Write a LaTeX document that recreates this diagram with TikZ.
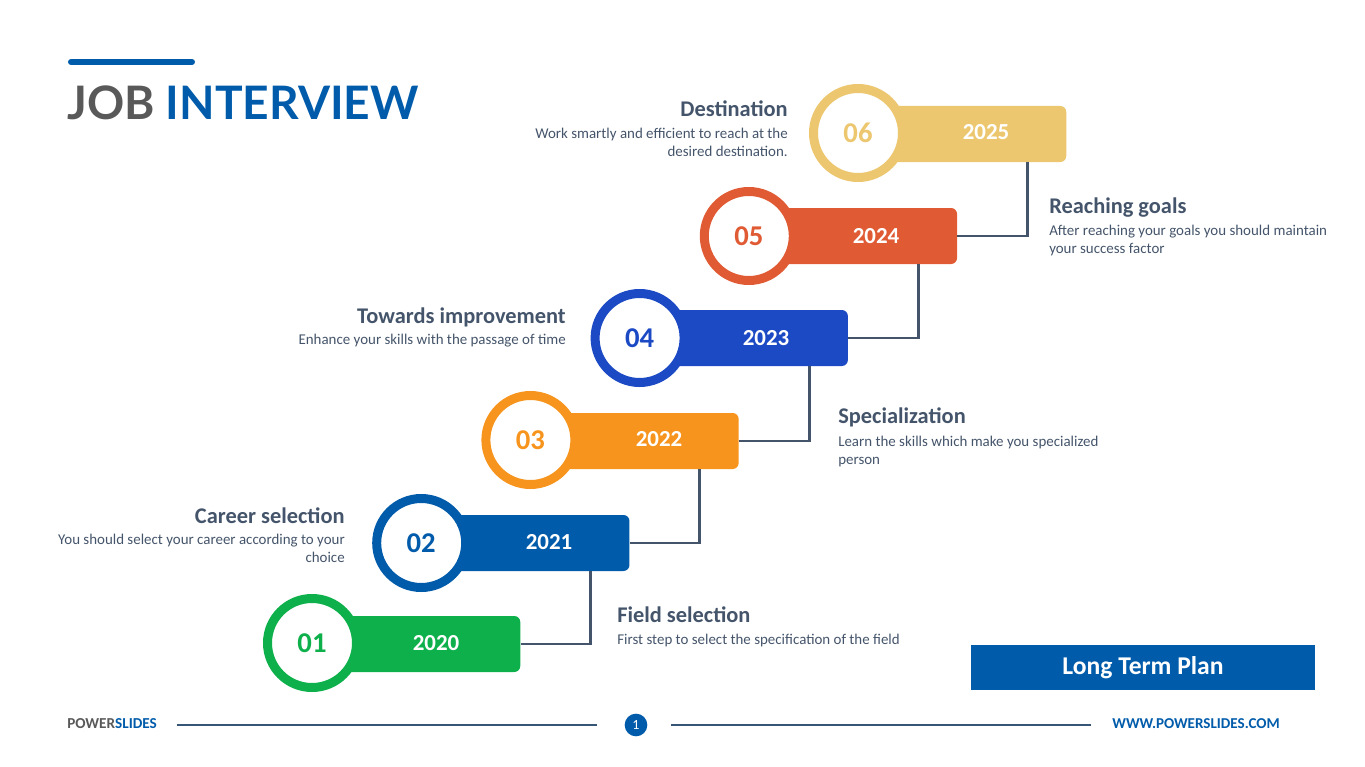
\documentclass[tikz,border=0pt]{standalone}
\usepackage{fontspec}
\setmainfont{Carlito}
\newfontfamily\lato{Lato}
\definecolor{cgreen}{HTML}{0DB04B}
\definecolor{cblue}{HTML}{005BAA}
\definecolor{corange}{HTML}{F7941D}
\definecolor{croyal}{HTML}{1C4AC5}
\definecolor{cred}{HTML}{E05A33}
\definecolor{cyellow}{HTML}{ECC770}
\definecolor{slate}{HTML}{44546A}
\definecolor{tgray}{HTML}{595959}
\tikzset{
  bar/.style={fill=#1, rounded corners=4.5pt, minimum width=156pt, minimum height=42pt, inner sep=0pt, anchor=west},
  ring/.style={circle, draw=#1, fill=white, line width=6.75pt, minimum size=66.75pt, inner sep=0pt, text=#1, font=\fontsize{21.5}{24}\selectfont\bfseries},
  year/.style={text=white, font=\fontsize{17.2}{20}\selectfont\bfseries, inner sep=0pt},
  link/.style={draw=slate, line width=2.2pt},
  head/.style={text=slate, font=\fontsize{16.8}{20}\selectfont\bfseries, inner sep=0pt},
  desc/.style={text=slate, font=\fontsize{11.2}{13.5}\selectfont, inner sep=0pt},
}
\begin{document}
\begin{tikzpicture}[x=0.75pt,y=-0.75pt]
\useasboundingbox (0,0) rectangle (1365,767);
% title
\draw[cblue, line width=4.5pt, line cap=round] (71,62) -- (192,62);
\node[anchor=base west, inner sep=0pt, font=\lato\bfseries\fontsize{34.6}{40}\selectfont] (title) at (67,119) {\textcolor{tgray}{JOB} \textcolor{cblue}{INTERVIEW}};
% steps
\node[bar=cgreen] (r1) at (312,644) {};
\node[bar=cblue] (r2) at (421.2,543) {};
\node[bar=corange] (r3) at (530.4,441) {};
\node[bar=croyal] (r4) at (639.6,338) {};
\node[bar=cred] (r5) at (748.8,236) {};
\node[bar=cyellow] (r6) at (858,134) {};
\node[ring=cgreen] (c1) at (312,643) {01};
\node[ring=cblue] (c2) at (421.2,543) {02};
\node[ring=corange] (c3) at (530.4,440) {03};
\node[ring=croyal] (c4) at (639.6,338) {04};
\node[ring=cred] (c5) at (748.8,236) {05};
\node[ring=cyellow] (c6) at (858,133) {06};
\node[year] (y1) at (436,643) {2020};
\node[year] (y2) at (549,542) {2021};
\node[year] (y3) at (659,439) {2022};
\node[year] (y4) at (766,338) {2023};
\node[year] (y5) at (876,236) {2024};
\node[year] (y6) at (986,132) {2025};
% connectors
\draw[link] (r1.east) -| ([xshift=-29.25pt]r2.south east);
\draw[link] (r2.east) -| ([xshift=-29.25pt]r3.south east);
\draw[link] (r3.east) -| ([xshift=-29.25pt]r4.south east);
\draw[link] (r4.east) -| ([xshift=-29.25pt]r5.south east);
\draw[link] (r5.east) -| ([xshift=-29.25pt]r6.south east);
% texts
\node[head, anchor=west] (h1) at (617,615) {Field selection};
\node[desc, anchor=west] (d1) at (617,641) {First step to select the specification of the field};
\node[head, anchor=east] (h2) at (345,516) {Career selection};
\node[desc, anchor=north east, align=right] (d2) at (345,534) {You should select your career according to your\\choice};
\node[head, anchor=west] (h3) at (838,417) {Specialization};
\node[desc, anchor=north west, align=left] (d3) at (838,436) {Learn the skills which make you specialized\\person};
\node[head, anchor=east] (h4) at (566,317) {Towards improvement};
\node[desc, anchor=east] (d4) at (566,341) {Enhance your skills with the passage of time};
\node[head, anchor=west] (h5) at (1049,208) {Reaching goals};
\node[desc, anchor=north west, align=left] (d5) at (1049,225) {After reaching your goals you should maintain\\your success factor};
\node[head, anchor=east] (h6) at (788,109) {Destination};
\node[desc, anchor=north east, align=right] (d6) at (788,128) {Work smartly and efficient to reach at the\\desired destination.};
% long term plan
\node[fill=cblue, minimum width=258pt, minimum height=33.75pt, inner sep=0pt, text=white, font=\fontsize{19.2}{22}\selectfont\bfseries] (ltp) at (1143,667.5) {\raisebox{-1.2pt}{Long Term Plan}};
% footer
\node[anchor=west, inner sep=0pt, font=\fontsize{11.4}{13}\selectfont\bfseries] (ps) at (67,724) {\textcolor{tgray}{POWER}\textcolor{cblue}{SLIDES}};
\node[circle, fill=cblue, minimum size=17pt, inner sep=0pt, text=white, font=\fontsize{10.5}{11}\selectfont] (pg) at (636,725) {1};
\node[anchor=east, inner sep=0pt, text=cblue, font=\fontsize{11.3}{13}\selectfont\bfseries] (www) at (1280,724) {WWW.POWERSLIDES.COM};
\coordinate (l1a) at (177,725);
\coordinate (l1b) at (597,725);
\coordinate (l2a) at (671,725);
\coordinate (l2b) at (1091,725);
\draw[slate!80!cblue, line width=0.8pt] (l1a) -- (l1b);
\draw[slate!80!cblue, line width=0.8pt] (l2a) -- (l2b);
\end{tikzpicture}
\end{document}
